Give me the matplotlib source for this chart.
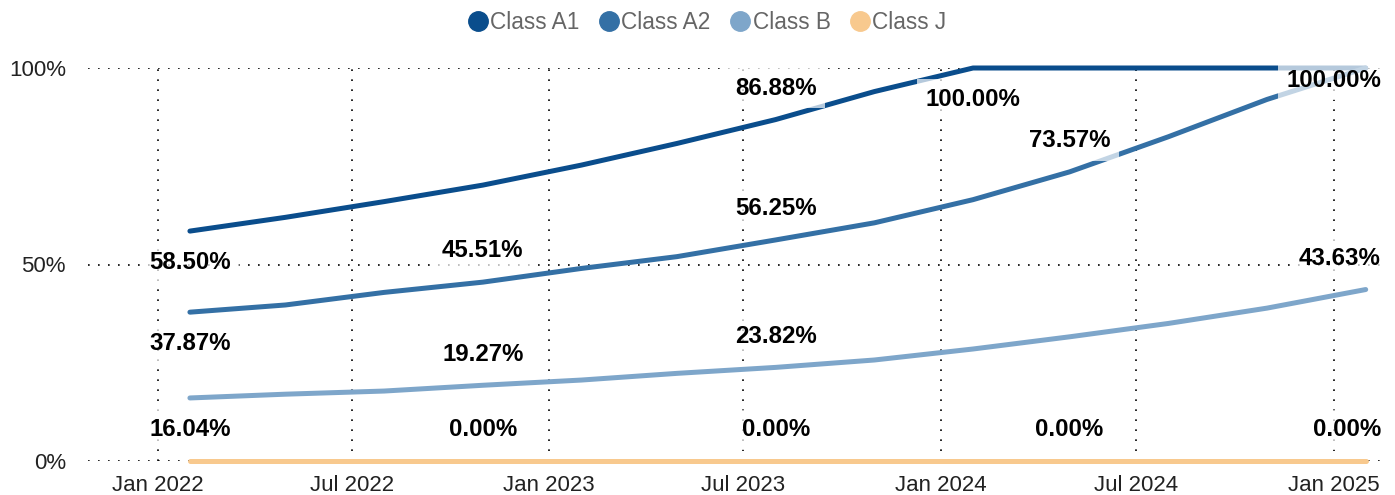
import matplotlib.pyplot as plt
import matplotlib.dates as mdates
from matplotlib.lines import Line2D
import pandas as pd

plt.rcParams['font.family'] = ['Liberation Sans', 'DejaVu Sans']

dates = pd.to_datetime([
    "2022-01-31", "2022-04-30", "2022-07-31", "2022-10-31",
    "2023-01-31", "2023-04-30", "2023-07-31", "2023-10-31",
    "2024-01-31", "2024-04-30", "2024-07-31", "2024-10-31",
    "2025-01-31",
])
class_a1 = [58.50, 62.0, 66.0, 70.2, 75.3, 80.8, 86.88, 94.0, 100.0, 100.0, 100.0, 100.0, 100.0]
class_a2 = [37.87, 39.7, 42.9, 45.51, 49.0, 52.0, 56.25, 60.6, 66.5, 73.57, 82.5, 92.0, 100.0]
class_b = [16.04, 17.0, 17.8, 19.27, 20.6, 22.3, 23.82, 25.7, 28.5, 31.6, 35.0, 38.9, 43.63]
class_j = [0.0, 0.0, 0.0, 0.0, 0.0, 0.0, 0.0, 0.0, 0.0, 0.0, 0.0, 0.0, 0.0]

names = ["Class A1", "Class A2", "Class B", "Class J"]
colors = ["#0a4d8c", "#3470a5", "#7ea6ca", "#f8c98e"]
series = [class_a1, class_a2, class_b, class_j]

# which points carry a value label: (series, index, dx pt, dy pt, ha)
labels = [
    (0, 0, 0, -22.5, 'center'), (1, 0, 0, -22.5, 'center'), (2, 0, 0, -22.5, 'center'),
    (1, 3, 0, 22.5, 'center'), (2, 3, 0, 22.5, 'center'), (3, 3, 0, 22.5, 'center'),
    (0, 6, 0, 22.5, 'center'), (1, 6, 0, 22.5, 'center'), (2, 6, 0, 22.5, 'center'), (3, 6, 0, 22.5, 'center'),
    (0, 8, 0, -22.5, 'center'), (1, 9, 0, 22.5, 'center'), (3, 9, 0, 22.5, 'center'),
    (1, 12, 11, -9, 'right'), (2, 12, 11, 22.5, 'right'), (3, 12, 11, 22.5, 'right'),
]

fig = plt.figure(figsize=(13.95, 4.95), dpi=100)
ax = fig.add_axes([88 / 1395, 34 / 495, 1297 / 1395, 393 / 495])

for vals, c in zip(series, colors):
    ax.plot(dates, vals, color=c, linewidth=3.6, solid_capstyle='round',
            solid_joinstyle='round', clip_on=False, zorder=3)

for si, idx, dx, dy, ha in labels:
    v = series[si][idx]
    ax.annotate(f"{v:.2f}%", (dates[idx], v), xytext=(dx, dy), textcoords='offset points',
                ha=ha, va='center', fontsize=17.3, fontweight='bold', color='black',
                annotation_clip=False, zorder=5,
                bbox=dict(boxstyle='square,pad=0.35', facecolor='white', alpha=0.7, edgecolor='none'))

ax.set_ylim(0, 100)
ax.set_xlim(pd.Timestamp("2021-10-28"), pd.Timestamp("2025-02-18"))
ax.set_yticks([0, 50, 100])
ax.set_yticklabels(["0%", "50%", "100%"])
ax.xaxis.set_major_locator(mdates.MonthLocator(bymonth=[1, 7]))
ax.xaxis.set_major_formatter(mdates.DateFormatter('%b %Y'))

ax.grid(True, color='black', linewidth=1.2, linestyle=(0, (1, 5)), zorder=0)
ax.set_axisbelow(True)
for s in ax.spines.values():
    s.set_visible(False)
ax.tick_params(axis='both', length=0, labelsize=16, colors='#222222')
ax.tick_params(axis='y', pad=16)
ax.tick_params(axis='x', pad=10)

handles = [Line2D([], [], marker='o', linestyle='none', markersize=14,
                  markerfacecolor=c, markeredgecolor=c) for c in colors]
fig.legend(handles, names, loc='upper center', bbox_to_anchor=(707 / 1395, 1.01),
           ncol=4, frameon=False, fontsize=16.3, labelcolor='#666666',
           handlelength=0.9, handletextpad=0.1, columnspacing=0.85, borderpad=0.2)

fig.savefig("out.png", dpi=100)
